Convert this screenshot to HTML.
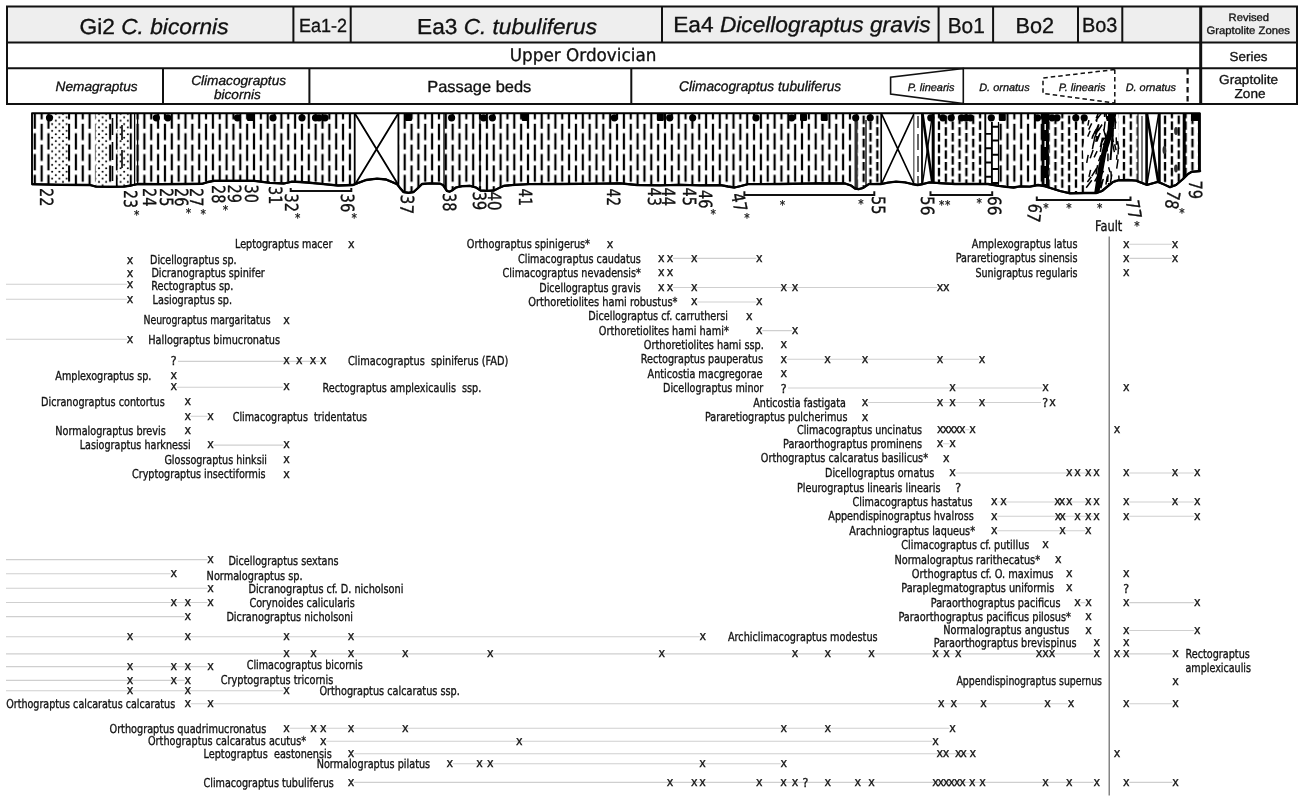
<!DOCTYPE html>
<html lang="en"><head><meta charset="utf-8"><title>Graptolite range chart</title>
<style>
html,body{margin:0;padding:0;background:#fff}
svg{display:block}
text{white-space:pre}
.c{font-stretch:condensed}
</style></head><body>
<svg width="1307" height="800" viewBox="0 0 1307 800" text-rendering="geometricPrecision">
<rect width="1307" height="800" fill="#fff"/>
<g id="hdr">
<rect x="7" y="6.5" width="1290" height="36" fill="#eee"/>
<g fill="none" stroke="#111" stroke-width="2">
<rect x="7" y="6.5" width="1290" height="97.5"/>
<path d="M7 42.5H1297M7 68.2H1297"/>
<path d="M293.4 6.5V42.5M350.7 6.5V42.5M662 6.5V42.5M938.6 6.5V42.5M993.1 6.5V42.5M1078 6.5V42.5M1122.3 6.5V42.5M163 68.2V104M309.4 68.2V104M631.3 68.2V104"/>
<path d="M1200.7 6.5V104" stroke-width="3"/>
<path d="M963.3 68.5L890.6 77.2V94L963.3 103.5Z" stroke-width="1.6"/>
<path d="M1114.8 69.5L1043 78V93.4L1114.8 103M1114.8 69.5V103" stroke-width="1.5" stroke-dasharray="4.5 3"/>
<path d="M1187.6 69V104" stroke-width="2.2" stroke-dasharray="5.5 3.5"/>
</g>
<g font-family='"Liberation Sans","DejaVu Sans",sans-serif' fill="#111" stroke="#111" stroke-width=".32">
<text x="79.5" y="33.5" font-size="21.7" textLength="149" lengthAdjust="spacingAndGlyphs">Gi2 <tspan font-style="italic">C. bicornis</tspan></text>
<text x="299" y="32.4" font-size="19" textLength="48" lengthAdjust="spacingAndGlyphs">Ea1-2</text>
<text x="417.1" y="33.5" font-size="21.7" textLength="179.9" lengthAdjust="spacingAndGlyphs">Ea3 <tspan font-style="italic">C. tubuliferus</tspan></text>
<text x="673.2" y="31.8" font-size="21.9" textLength="257.3" lengthAdjust="spacingAndGlyphs">Ea4 <tspan font-style="italic">Dicellograptus gravis</tspan></text>
<text x="947.7" y="33" font-size="21.7" textLength="37.1" lengthAdjust="spacingAndGlyphs">Bo1</text>
<text x="1015.6" y="33" font-size="21.7" textLength="38.6" lengthAdjust="spacingAndGlyphs">Bo2</text>
<text x="1082" y="32.2" font-size="20.4" textLength="35.4" lengthAdjust="spacingAndGlyphs">Bo3</text>
<text x="1228.6" y="20.6" font-size="10.8" textLength="40.5" lengthAdjust="spacingAndGlyphs">Revised</text>
<text x="1206.4" y="34" font-size="10.8" textLength="83.6" lengthAdjust="spacingAndGlyphs">Graptolite Zones</text>
<text x="1229.5" y="61" font-size="13" textLength="38.1" lengthAdjust="spacingAndGlyphs">Series</text>
<text x="1219.1" y="83.5" font-size="13" textLength="59.1" lengthAdjust="spacingAndGlyphs">Graptolite</text>
<text x="1234.6" y="98.2" font-size="13" textLength="30.9" lengthAdjust="spacingAndGlyphs">Zone</text>
<text x="55.6" y="90.9" font-size="13.4" textLength="82" lengthAdjust="spacingAndGlyphs" font-style="italic">Nemagraptus</text>
<text x="191.2" y="84.6" font-size="13.4" textLength="94.9" lengthAdjust="spacingAndGlyphs" font-style="italic">Climacograptus</text>
<text x="213.9" y="99" font-size="13.4" textLength="47" lengthAdjust="spacingAndGlyphs" font-style="italic">bicornis</text>
<text x="427.2" y="92.2" font-size="16" textLength="104.1" lengthAdjust="spacingAndGlyphs">Passage beds</text>
<text x="679" y="91.4" font-size="14" textLength="162.2" lengthAdjust="spacingAndGlyphs" font-style="italic">Climacograptus tubuliferus</text>
<text x="907.8" y="90.9" font-size="10.8" textLength="46.7" lengthAdjust="spacingAndGlyphs" font-style="italic">P. linearis</text>
<text x="979.2" y="90.9" font-size="10.8" textLength="50.5" lengthAdjust="spacingAndGlyphs" font-style="italic">D. ornatus</text>
<text x="1058.8" y="90.9" font-size="10.8" textLength="46.7" lengthAdjust="spacingAndGlyphs" font-style="italic">P. linearis</text>
<text x="1125.7" y="90.9" font-size="10.8" textLength="50.3" lengthAdjust="spacingAndGlyphs" font-style="italic">D. ornatus</text>
</g>
<text class="c" x="509.8" y="60.6" font-size="17.4" font-family='"DejaVu Sans Condensed","DejaVu Sans","Liberation Sans",sans-serif' fill="#111" stroke="#111" stroke-width=".3" textLength="146.6" lengthAdjust="spacingAndGlyphs">Upper Ordovician</text>
</g>
<defs>
<clipPath id="cc"><path d="M32 113.2 H1199.8 V171 L1200.3 171 L1191.4 171.9 L1188 174 L1183 179 L1176 185 L1170 187.2 L1163 184 L1157.7 181.8 L1152 183.5 L1147 184.9 L1142 183 L1136 180.6 L1128 180 L1118 180.3 L1113 182 L1108 186 L1102 191 L1096.5 193 L1085 193 L1070 193.3 L1060 191 L1052 188.5 L1044 186 L1038 185 L1030 186.6 L1020 186.4 L1013.6 187.5 L1006 186.8 L998.5 185.8 L988 184 L955 184 L940 183.2 L929.4 182.4 L923 184 L917.6 185 L912 184 L905 182.4 L896 181.6 L888 182.6 L881.4 184 L868.8 184.1 L863 188 L858.7 189.2 L855 188.5 L851 185.5 L845 183.5 L820 183.3 L780 184 L748 184.1 L741 186 L734.5 187.5 L728 186.5 L721 185.2 L700 185.3 L680 184.8 L660 185.3 L637 185 L620 183.3 L600 183.6 L560 184 L529 184.1 L515 184.8 L504 185.8 L499 188 L494 190.5 L487 190.9 L480.6 190.5 L476 187.5 L470 185.8 L462 186.2 L456 187.5 L452 190.5 L449.5 191.7 L447 191 L445 188 L443 185 L440 183.7 L430 183.4 L422 184 L418 188 L413.6 192 L408.5 192.8 L403.5 192 L400 188 L397 184.1 L392 182 L386 179.5 L377 178.6 L366 180 L358 183 L353 185 L338 185.5 L321 183.8 L307 182.5 L300 182 L292 181.6 L284 183.5 L270 182.8 L254 180.8 L235 180.8 L214 180.8 L208 182 L202 183.8 L185 184 L160 184.2 L138 184 L131 185.5 L124 186.6 L110 186.8 L96 186.6 L90 185 L60 184.8 L32 184.2Z"/></clipPath>
<pattern id="pd" x="34.8" y="103" width="13.7" height="20.8" patternUnits="userSpaceOnUse"><path d="M6.85 0V16.3M0 9.4V20.8M0 0V4.9M13.7 9.4V20.8M13.7 0V4.9" stroke="#000" stroke-width="2.2" fill="none"/></pattern>
<pattern id="pe" x="34.8" y="104" width="13.7" height="11.6" patternUnits="userSpaceOnUse"><path d="M6.85 0V8.4M0 5.8V11.6M0 0V2.6M13.7 5.8V11.6M13.7 0V2.6" stroke="#000" stroke-width="2.3" fill="none"/></pattern>
<pattern id="pt" x="0" y="0" width="7.2" height="6.8" patternUnits="userSpaceOnUse"><circle cx="1.8" cy="1.7" r="1.05"/><circle cx="5.4" cy="5.1" r="1.05"/></pattern>
</defs>
<g clip-path="url(#cc)">
<rect x="30" y="110" width="1175" height="90" fill="#fff"/>
<rect x="30" y="110" width="1175" height="90" fill="url(#pd)"/>
<rect x="857.5" y="110" width="23" height="90" fill="#fff"/>
<rect x="857.5" y="110" width="23" height="90" fill="url(#pe)"/>
<rect x="934.5" y="110" width="50.5" height="90" fill="#fff"/>
<rect x="934.5" y="110" width="50.5" height="90" fill="url(#pe)"/>
<rect x="1049" y="110" width="41" height="90" fill="#fff"/>
<rect x="1049" y="110" width="41" height="90" fill="url(#pe)"/>
<rect x="1118" y="110" width="28" height="90" fill="#fff"/>
<rect x="1118" y="110" width="28" height="90" fill="url(#pe)"/>
<rect x="1160" y="110" width="40" height="90" fill="#fff"/>
<rect x="1160" y="110" width="40" height="90" fill="url(#pe)"/>
<rect x="50.3" y="110" width="17.7" height="90" fill="#fff"/>
<rect x="50.3" y="110" width="17.7" height="90" fill="url(#pt)"/>
<rect x="95.8" y="110" width="12.6" height="90" fill="#fff"/>
<rect x="95.8" y="110" width="12.6" height="90" fill="url(#pt)"/>
<rect x="117.6" y="110" width="11.8" height="90" fill="#fff"/>
<rect x="117.6" y="110" width="11.8" height="90" fill="url(#pt)"/>
<path d="M112.5 118V135M112.5 142V160M112.5 166V181M122 125V140M122 150V168" stroke="#000" stroke-width="1.6"/>
<rect x="354.7" y="110" width="43.7" height="90" fill="#fff"/>
<path d="M354.7 113.2V195M398.4 113.2V195" stroke="#000" stroke-width="1.8" fill="none"/>
<path d="M354.7 113.2L398.4 185M398.4 113.2L354.7 185" stroke="#000" stroke-width="1.8" fill="none"/>
<rect x="881.2" y="110" width="33.1" height="90" fill="#fff"/>
<path d="M881.2 113.2V195M914.3 113.2V195" stroke="#000" stroke-width="1.7" fill="none"/>
<path d="M881.2 113.2L914.3 184.5M914.3 113.2L881.2 184.5" stroke="#000" stroke-width="1.7" fill="none"/>
<rect x="914.3" y="110" width="20" height="90" fill="#fff"/>
<path d="M918 116V128M918 134V150M918 156V172M918 176V184" stroke="#333" stroke-width="1.5"/>
<path d="M922 113V195" stroke="#000" stroke-width="1.8"/><path d="M933.2 113V195" stroke="#000" stroke-width="3"/>
<path d="M922.5 114L932.5 184" stroke="#000" stroke-width="2.6"/><path d="M932.5 114L922.5 184" stroke="#000" stroke-width="1.4"/>
<rect x="1138" y="110" width="22" height="90" fill="#fff"/>
<path d="M1138 113V195M1142 116V195" stroke="#444" stroke-width="1.4"/>
<path d="M1146.6 113V195M1159.4 113V195" stroke="#000" stroke-width="2.6"/>
<path d="M1147 114L1158.6 184" stroke="#000" stroke-width="2.6"/><path d="M1158.6 114L1147 184" stroke="#000" stroke-width="1.5"/>
<rect x="985.3" y="110" width="13.2" height="90" fill="#fff"/>
<path d="M985.3 110V195M991.9 122V195M985.3 133.9H991.9M985.3 148.2H991.9M985.3 162.5H991.9M985.3 176.8H991.9M991.9 126.7H998.5M991.9 140.5H998.5M991.9 154.8H998.5M991.9 169H998.5M991.9 183H998.5" stroke="#000" stroke-width="1.9" fill="none"/>
<path d="M998.5 122V195" stroke="#000" stroke-width="1.2"/>
<path d="M134.6 110V195M137.6 110V195M444 110V195M480 110V195M866 120V195" stroke="#000" stroke-width="1.3" fill="none"/>
<path d="M856 118V195" stroke="#333" stroke-width="3"/>
<path d="M1184.2 110V195" stroke="#000" stroke-width="3"/>
<path d="M1045.2 110V195" stroke="#000" stroke-width="7.2"/>
<path d="M1045.2 124V130M1045.2 141V147M1045.2 160V166M1045.2 178V184" stroke="#fff" stroke-width="1.4"/>
<path d="M1088 110L1083 150L1085 200L1120 200L1118 110Z" fill="#fff"/>
<path d="M1094.1 157.4l3 -6.2M1107.3 121l0.6 -5M1094.8 133.8l3.7 -9.2M1114.4 152.2l-1.8 -8M1107.6 182l0.5 -7.6M1108.8 120.9l-0 -8.8M1096.2 118.4l3.5 -8.6M1110.4 182.8l1.4 -8.5M1099.4 176.9l4.2 -5.9M1115.9 123.4l-1.1 -5.6M1118.8 149.1l-1.2 -8M1103.2 145.3l2.9 -6.1M1105.9 184.7l1.4 -8.3M1115.1 191.3l-1.8 -8.2M1115.3 189.3l-0.1 -9.5M1110.3 132l-0.1 -9.2M1095.7 120.8l5.6 -7.4M1089 176.8l1.6 -6.9M1096 174.4l1.6 -9.2M1106.9 119.4l-1.2 -8.5M1116 190.5l1.5 -7.4M1096.5 121.8l1.3 -7.9M1092.7 147l1.8 -7.8M1087.4 182l3.9 -5.3M1116.5 144.7l-0.3 -7.3M1107.9 161.3l0.1 -7.8M1118 154.5l0.4 -7.1M1094.1 138.9l3.9 -9.1M1104.6 116.9l-0.1 -7.1M1086.7 162.8l1.5 -8M1107.3 151.4l-1 -8.3M1110 172.1l-1.4 -4.9M1109 189.2l-0.4 -6.2M1106.2 140.3l-1 -6.7M1098.6 161.3l2.2 -6.1M1112.3 118l0.5 -7.8M1096.5 132.9l2.4 -8.7M1092.4 149.1l1.7 -8.3M1096.9 141.4l3.3 -8.5M1115.1 128.9l0.2 -6.7M1116.1 150.3l-1.5 -6M1104 130.5l1.1 -9M1092.2 137.2l4.1 -8.1M1113.4 142.2l-0.9 -5.6M1113 136.6l-0.6 -6.7M1100.3 147.1l2.2 -9.4M1086.2 187.7l5.6 -7.5M1100.8 188.2l2.5 -9.3M1111.3 179.6l-0.3 -8.3M1095.8 141.9l1.1 -6M1106 137.8l-2.5 -8.7M1116.7 168.7l1.4 -9.5M1116.6 159.8l0.4 -5.1M1091.8 138.8l3.3 -7.6M1100.1 187.4l2.5 -7.6M1094.6 181.5l3.8 -6.3M1098 131l4.1 -6.5M1091.8 176.2l5 -8.2M1114 116.6l1.1 -8.1M1087.7 136.6l2.5 -5.8M1100.4 151.9l1.3 -8.8M1087.9 125.6l1 -5.5M1119.1 180.9l-0.3 -5.4M1096.7 139.9l3.1 -6M1105.9 143.4l-0.8 -5.9M1090.2 158.2l2.9 -8.1M1088.7 129.6l3 -6.2M1112.6 144.9l0.1 -9M1100.7 144.3l3.6 -6.6M1100.3 168.8l2 -7" stroke="#000" stroke-width="1.5" fill="none"/>
<path d="M1109 110H1117L1112.5 135L1106.5 153L1099.5 192L1094 194L1098.5 165L1102.5 148L1107.5 130Z" fill="#000"/>
<path d="M1113 128L1110.5 160" stroke="#000" stroke-width="2"/>
<ellipse cx="1176" cy="131" rx="1.9" ry="4" fill="#333"/>
<ellipse cx="1164.4" cy="150" rx="1.9" ry="4" fill="#333"/>
<ellipse cx="1176" cy="168.5" rx="1.9" ry="4" fill="#333"/>
<g fill="#000">
<circle cx="49.5" cy="117.8" r="3.6"/>
<circle cx="156.4" cy="117.8" r="3.6"/>
<circle cx="167.8" cy="117.8" r="3.6"/>
<circle cx="237.5" cy="117.8" r="3.6"/>
<circle cx="273" cy="117.8" r="3.6"/>
<circle cx="302" cy="117.8" r="3.6"/>
<circle cx="315.5" cy="117.8" r="3.6"/>
<circle cx="319" cy="117.8" r="3.6"/>
<circle cx="325" cy="117.8" r="3.6"/>
<circle cx="451.6" cy="117.8" r="3.6"/>
<circle cx="483.6" cy="117.8" r="3.6"/>
<circle cx="492.4" cy="117.8" r="3.6"/>
<circle cx="614.4" cy="117.8" r="3.6"/>
<circle cx="669.7" cy="117.8" r="3.6"/>
<circle cx="692.7" cy="117.8" r="3.6"/>
<circle cx="756" cy="117.8" r="3.6"/>
<circle cx="791.7" cy="117.8" r="3.6"/>
<circle cx="855.7" cy="117.8" r="3.6"/>
<circle cx="870.2" cy="117.8" r="3.6"/>
<circle cx="930.8" cy="117.8" r="3.6"/>
<circle cx="942.9" cy="117.8" r="3.6"/>
<circle cx="951.2" cy="117.8" r="3.6"/>
<circle cx="961.6" cy="117.8" r="3.6"/>
<circle cx="966" cy="117.8" r="3.6"/>
<circle cx="970.4" cy="117.8" r="3.6"/>
<circle cx="991.3" cy="117.8" r="3.6"/>
<circle cx="1037.5" cy="117.8" r="3.6"/>
<circle cx="1052" cy="117.8" r="3.6"/>
<circle cx="1057" cy="117.8" r="3.6"/>
<circle cx="1075.8" cy="117.8" r="3.6"/>
<circle cx="1084.2" cy="117.8" r="3.6"/>
<rect x="247" y="113.6" width="7" height="7.4" rx="1.2"/>
<rect x="405" y="113.6" width="7" height="7.4" rx="1.2"/>
<rect x="521.7" y="113.6" width="7" height="7.4" rx="1.2"/>
<rect x="656.9" y="113.6" width="7" height="7.4" rx="1.2"/>
<rect x="800" y="113.6" width="7" height="7.4" rx="1.2"/>
<rect x="820.8" y="113.6" width="7" height="7.4" rx="1.2"/>
<rect x="998.8" y="113.6" width="7" height="7.4" rx="1.2"/>
<rect x="1191" y="113" width="9" height="8"/>
</g>
</g>
<path d="M32 113.2 H1199.8 V171 L1200.3 171 L1191.4 171.9 L1188 174 L1183 179 L1176 185 L1170 187.2 L1163 184 L1157.7 181.8 L1152 183.5 L1147 184.9 L1142 183 L1136 180.6 L1128 180 L1118 180.3 L1113 182 L1108 186 L1102 191 L1096.5 193 L1085 193 L1070 193.3 L1060 191 L1052 188.5 L1044 186 L1038 185 L1030 186.6 L1020 186.4 L1013.6 187.5 L1006 186.8 L998.5 185.8 L988 184 L955 184 L940 183.2 L929.4 182.4 L923 184 L917.6 185 L912 184 L905 182.4 L896 181.6 L888 182.6 L881.4 184 L868.8 184.1 L863 188 L858.7 189.2 L855 188.5 L851 185.5 L845 183.5 L820 183.3 L780 184 L748 184.1 L741 186 L734.5 187.5 L728 186.5 L721 185.2 L700 185.3 L680 184.8 L660 185.3 L637 185 L620 183.3 L600 183.6 L560 184 L529 184.1 L515 184.8 L504 185.8 L499 188 L494 190.5 L487 190.9 L480.6 190.5 L476 187.5 L470 185.8 L462 186.2 L456 187.5 L452 190.5 L449.5 191.7 L447 191 L445 188 L443 185 L440 183.7 L430 183.4 L422 184 L418 188 L413.6 192 L408.5 192.8 L403.5 192 L400 188 L397 184.1 L392 182 L386 179.5 L377 178.6 L366 180 L358 183 L353 185 L338 185.5 L321 183.8 L307 182.5 L300 182 L292 181.6 L284 183.5 L270 182.8 L254 180.8 L235 180.8 L214 180.8 L208 182 L202 183.8 L185 184 L160 184.2 L138 184 L131 185.5 L124 186.6 L110 186.8 L96 186.6 L90 185 L60 184.8 L32 184.2Z" fill="none" stroke="#000" stroke-width="1.9" stroke-linejoin="round"/>
<path d="M1199.3 113V171" stroke="#000" stroke-width="2.6"/>
<path d="M32 184.2 L60 184.8 L90 185 L96 186.6 L110 186.8 L124 186.6 L131 185.5 L138 184 L160 184.2 L185 184 L202 183.8 L208 182 L214 180.8 L235 180.8 L254 180.8 L270 182.8 L284 183.5 L292 181.6 L300 182 L307 182.5 L321 183.8 L338 185.5 L353 185 L358 183 L366 180 L377 178.6 L386 179.5 L392 182 L397 184.1 L400 188 L403.5 192 L408.5 192.8 L413.6 192 L418 188 L422 184 L430 183.4 L440 183.7 L443 185 L445 188 L447 191 L449.5 191.7 L452 190.5 L456 187.5 L462 186.2 L470 185.8 L476 187.5 L480.6 190.5 L487 190.9 L494 190.5 L499 188 L504 185.8 L515 184.8 L529 184.1 L560 184 L600 183.6 L620 183.3 L637 185 L660 185.3 L680 184.8 L700 185.3 L721 185.2 L728 186.5 L734.5 187.5 L741 186 L748 184.1 L780 184 L820 183.3 L845 183.5 L851 185.5 L855 188.5 L858.7 189.2 L863 188 L868.8 184.1 L881.4 184 L888 182.6 L896 181.6 L905 182.4 L912 184 L917.6 185 L923 184 L929.4 182.4 L940 183.2 L955 184 L988 184 L998.5 185.8 L1006 186.8 L1013.6 187.5 L1020 186.4 L1030 186.6 L1038 185 L1044 186 L1052 188.5 L1060 191 L1070 193.3 L1085 193 L1096.5 193 L1102 191 L1108 186 L1113 182 L1118 180.3 L1128 180 L1136 180.6 L1142 183 L1147 184.9 L1152 183.5 L1157.7 181.8 L1163 184 L1170 187.2 L1176 185 L1183 179 L1188 174 L1191.4 171.9 L1200.3 171" fill="none" stroke="#000" stroke-width="2.3" stroke-linejoin="round"/>
<path d="M290.7 188V191H351.3V188M744.4 191.2V195H874.3V191.2M930.5 191.2V195H992.2V191.2M1036.8 196.4V200H1130.5V196.4" fill="none" stroke="#111" stroke-width="2"/>
<g class="c" font-family='"DejaVu Sans Condensed","DejaVu Sans","Liberation Sans",sans-serif' font-size="18.2" fill="#111" stroke="#111" stroke-width=".32">
<text transform="translate(40.4 188) rotate(90)" x="0" y="0" textLength="18.4" lengthAdjust="spacingAndGlyphs">22</text>
<text transform="translate(124 190) rotate(90)" x="0" y="0" textLength="18" lengthAdjust="spacingAndGlyphs">23</text>
<text transform="translate(143.4 188) rotate(90)" x="0" y="0" textLength="18.4" lengthAdjust="spacingAndGlyphs">24</text>
<text transform="translate(159.5 188) rotate(90)" x="0" y="0" textLength="18.4" lengthAdjust="spacingAndGlyphs">25</text>
<text transform="translate(174.8 188) rotate(90)" x="0" y="0" textLength="18.4" lengthAdjust="spacingAndGlyphs">26</text>
<text transform="translate(190.2 188) rotate(90)" x="0" y="0" textLength="18.4" lengthAdjust="spacingAndGlyphs">27</text>
<text transform="translate(211.8 185) rotate(90)" x="0" y="0" textLength="18.4" lengthAdjust="spacingAndGlyphs">28</text>
<text transform="translate(227.8 184.6) rotate(90)" x="0" y="0" textLength="18.3" lengthAdjust="spacingAndGlyphs">29</text>
<text transform="translate(244.8 184.6) rotate(90)" x="0" y="0" textLength="18.3" lengthAdjust="spacingAndGlyphs">30</text>
<text transform="translate(268.8 186.1) rotate(90)" x="0" y="0" textLength="18.3" lengthAdjust="spacingAndGlyphs">31</text>
<text transform="translate(285.4 193.6) rotate(90)" x="0" y="0" textLength="18.5" lengthAdjust="spacingAndGlyphs">32</text>
<text transform="translate(340.7 193.6) rotate(90)" x="0" y="0" textLength="18.8" lengthAdjust="spacingAndGlyphs">36</text>
<text transform="translate(400.9 194.6) rotate(92)" x="0" y="0" textLength="19.1" lengthAdjust="spacingAndGlyphs">37</text>
<text transform="translate(443.2 193) rotate(90)" x="0" y="0" textLength="18.4" lengthAdjust="spacingAndGlyphs">38</text>
<text transform="translate(473.1 191.4) rotate(90)" x="0" y="0" textLength="18.9" lengthAdjust="spacingAndGlyphs">39</text>
<text transform="translate(488.4 191.4) rotate(90)" x="0" y="0" textLength="19" lengthAdjust="spacingAndGlyphs">40</text>
<text transform="translate(519.2 188.4) rotate(90)" x="0" y="0" textLength="17.6" lengthAdjust="spacingAndGlyphs">41</text>
<text transform="translate(606.5 188.4) rotate(90)" x="0" y="0" textLength="17.6" lengthAdjust="spacingAndGlyphs">42</text>
<text transform="translate(647.8 187.6) rotate(90)" x="0" y="0" textLength="18.4" lengthAdjust="spacingAndGlyphs">43</text>
<text transform="translate(662.1 187.6) rotate(90)" x="0" y="0" textLength="18.4" lengthAdjust="spacingAndGlyphs">44</text>
<text transform="translate(683.4 187.6) rotate(90)" x="0" y="0" textLength="18.4" lengthAdjust="spacingAndGlyphs">45</text>
<text transform="translate(699.4 189.9) rotate(90)" x="0" y="0" textLength="18.5" lengthAdjust="spacingAndGlyphs">46</text>
<text transform="translate(731.1 194.2) rotate(79)" x="0" y="0" textLength="18.8" lengthAdjust="spacingAndGlyphs">47</text>
<text transform="translate(872.2 196) rotate(90)" x="0" y="0" textLength="18.4" lengthAdjust="spacingAndGlyphs">55</text>
<text transform="translate(921.2 196) rotate(90)" x="0" y="0" textLength="19.4" lengthAdjust="spacingAndGlyphs">56</text>
<text transform="translate(988.2 196) rotate(90)" x="0" y="0" textLength="19.4" lengthAdjust="spacingAndGlyphs">66</text>
<text transform="translate(1029.3 202.9) rotate(98)" x="0" y="0" textLength="18.4" lengthAdjust="spacingAndGlyphs">67</text>
<text transform="translate(1125.8 201.3) rotate(80)" x="0" y="0" textLength="19.1" lengthAdjust="spacingAndGlyphs">77</text>
<text transform="translate(1167.8 189.8) rotate(100)" x="0" y="0" textLength="18.4" lengthAdjust="spacingAndGlyphs">78</text>
<text transform="translate(1189.3 180.6) rotate(90)" x="0" y="0" textLength="18.5" lengthAdjust="spacingAndGlyphs">79</text>
</g>
<g class="c" font-family='"DejaVu Sans Condensed","DejaVu Sans","Liberation Sans",sans-serif' font-size="12" fill="#111" text-anchor="middle" stroke="#111" stroke-width=".25">
<text x="136.8" y="218.5">*</text>
<text x="188.4" y="217.1">*</text>
<text x="203.2" y="217.6">*</text>
<text x="225.4" y="213.6">*</text>
<text x="297.7" y="222.4">*</text>
<text x="354.2" y="222.1">*</text>
<text x="713.3" y="217.8">*</text>
<text x="747" y="221.6">*</text>
<text x="1137" y="230">*</text>
<text x="1181.9" y="216.7">*</text>
<text x="782.5" y="208.6">*</text>
<text x="861" y="207.9">*</text>
<text x="941.7" y="208.9">*</text>
<text x="947.8" y="208.9">*</text>
<text x="979.1" y="207.1">*</text>
<text x="1046" y="211.7">*</text>
<text x="1069" y="211.7">*</text>
<text x="1099.6" y="212.1">*</text>
</g>
<path d="M6 284.3H127M6 299.3H127M6 339.3H127M178 361.4H320M177 387.2H283M190.5 416.3H207.5M213.5 445.1H283.5M6 559.6H207.5M6 573.8H170.8M6 588.3H207.5M6 602.5H207.5M6 616.6H184.7M6 636.8H699.8M6 653.9H1093.8M1120 653.9H1172.5M6 666.6H207.5M6 680.4H184.7M6 690.8H283.4M190.7 703.8H1068M1129.2 703.8H1172.5M289.4 728.3H949.4M326.3 741.2H932.4M353.9 753.7H969.7M452.8 763.8H780.8M353.9 782.4H1093.8M1129.2 782.4H1172.5M673 258.4H756.3M1129.2 244.3H1172M1129.2 258.4H1172M673 287.5H937M697.3 302H756.3M762.3 330.6H792M786.8 359.3H979M788 388H1042.5M868 402.5H1041M965.2 429.8H969.5M943 443.8H949.5M955.5 473H1093.6M1129.2 473H1194.2M997.3 502H1093.6M1129.2 502H1194.2M997.3 516.3H1093.6M1129.2 516.3H1194.2M997.3 530.8H1085.3M1080.6 602.6H1085.4M1129.2 602.6H1194.3M1129.2 630.5H1194.3" stroke="#cfcfcf" stroke-width="1.1" fill="none"/>
<path d="M1109.2 236.5V795.5" stroke="#666" stroke-width="1.2" fill="none"/>
<g class="c" font-family='"DejaVu Sans Condensed","DejaVu Sans","Liberation Sans",sans-serif' font-size="12.3" fill="#111" stroke="#111" stroke-width=".32">
<text x="235" y="248.4" textLength="97.5" lengthAdjust="spacingAndGlyphs">Leptograptus macer</text>
<text x="150" y="263.8" textLength="86.6" lengthAdjust="spacingAndGlyphs">Dicellograptus sp.</text>
<text x="151.4" y="276.7" textLength="113.4" lengthAdjust="spacingAndGlyphs">Dicranograptus spinifer</text>
<text x="151.2" y="289.5" textLength="82.1" lengthAdjust="spacingAndGlyphs">Rectograptus sp.</text>
<text x="152.6" y="303.9" textLength="79.4" lengthAdjust="spacingAndGlyphs">Lasiograptus sp.</text>
<text x="143.5" y="323.7" textLength="127" lengthAdjust="spacingAndGlyphs">Neurograptus margaritatus</text>
<text x="148.3" y="343.7" textLength="131.7" lengthAdjust="spacingAndGlyphs">Hallograptus bimucronatus</text>
<text x="348" y="365.4" textLength="160.3" lengthAdjust="spacingAndGlyphs">Climacograptus  spiniferus (FAD)</text>
<text x="55.3" y="379.7" textLength="96.1" lengthAdjust="spacingAndGlyphs">Amplexograptus sp.</text>
<text x="322.6" y="391.7" textLength="158.7" lengthAdjust="spacingAndGlyphs">Rectograptus amplexicaulis  ssp.</text>
<text x="41" y="405.9" textLength="123.7" lengthAdjust="spacingAndGlyphs">Dicranograptus contortus</text>
<text x="232.7" y="420.7" textLength="134.3" lengthAdjust="spacingAndGlyphs">Climacograptus  tridentatus</text>
<text x="55.3" y="434.7" textLength="110.4" lengthAdjust="spacingAndGlyphs">Normalograptus brevis</text>
<text x="79.7" y="449.1" textLength="110.9" lengthAdjust="spacingAndGlyphs">Lasiograptus harknessi</text>
<text x="164.4" y="463.7" textLength="102.6" lengthAdjust="spacingAndGlyphs">Glossograptus hinksii</text>
<text x="132" y="478.4" textLength="133.6" lengthAdjust="spacingAndGlyphs">Cryptograptus insectiformis</text>
<text x="228.4" y="565.1" textLength="110.2" lengthAdjust="spacingAndGlyphs">Dicellograptus sextans</text>
<text x="206.6" y="580.1" textLength="96" lengthAdjust="spacingAndGlyphs">Normalograptus sp.</text>
<text x="248.4" y="592.7" textLength="155" lengthAdjust="spacingAndGlyphs">Dicranograptus cf. D. nicholsoni</text>
<text x="249.5" y="606.8" textLength="105.3" lengthAdjust="spacingAndGlyphs">Corynoides calicularis</text>
<text x="226.4" y="621.1" textLength="126.6" lengthAdjust="spacingAndGlyphs">Dicranograptus nicholsoni</text>
<text x="728" y="640.7" textLength="149.6" lengthAdjust="spacingAndGlyphs">Archiclimacograptus modestus</text>
<text x="1185.5" y="658" textLength="64.3" lengthAdjust="spacingAndGlyphs">Rectograptus</text>
<text x="1185.5" y="671.6" textLength="65.5" lengthAdjust="spacingAndGlyphs">amplexicaulis</text>
<text x="246.7" y="668.9" textLength="116" lengthAdjust="spacingAndGlyphs">Climacograptus bicornis</text>
<text x="220.8" y="684.4" textLength="112.5" lengthAdjust="spacingAndGlyphs">Cryptograptus tricornis</text>
<text x="319.4" y="695.2" textLength="140.4" lengthAdjust="spacingAndGlyphs">Orthograptus calcaratus ssp.</text>
<text x="6.2" y="708" textLength="169" lengthAdjust="spacingAndGlyphs">Orthograptus calcaratus calcaratus</text>
<text x="109.5" y="732.7" textLength="156.7" lengthAdjust="spacingAndGlyphs">Orthograptus quadrimucronatus</text>
<text x="148" y="745.1" textLength="158.1" lengthAdjust="spacingAndGlyphs">Orthograptus calcaratus acutus*</text>
<text x="203.5" y="757.8" textLength="128.2" lengthAdjust="spacingAndGlyphs">Leptograptus  eastonensis</text>
<text x="316.7" y="768" textLength="113.4" lengthAdjust="spacingAndGlyphs">Normalograptus pilatus</text>
<text x="203.5" y="786.5" textLength="130.3" lengthAdjust="spacingAndGlyphs">Climacograptus tubuliferus</text>
<text x="466.8" y="248.4" textLength="123.2" lengthAdjust="spacingAndGlyphs">Orthograptus spinigerus*</text>
<text x="518" y="262.6" textLength="122.8" lengthAdjust="spacingAndGlyphs">Climacograptus caudatus</text>
<text x="502.6" y="277.1" textLength="138.2" lengthAdjust="spacingAndGlyphs">Climacograptus nevadensis*</text>
<text x="539.3" y="291.6" textLength="101.5" lengthAdjust="spacingAndGlyphs">Dicellograptus gravis</text>
<text x="528.3" y="306.1" textLength="149.2" lengthAdjust="spacingAndGlyphs">Orthoretiolites hami robustus*</text>
<text x="588.3" y="320.4" textLength="139.7" lengthAdjust="spacingAndGlyphs">Dicellograptus cf. carruthersi</text>
<text x="598.8" y="334.7" textLength="130" lengthAdjust="spacingAndGlyphs">Orthoretiolites hami hami*</text>
<text x="643.8" y="349.1" textLength="120" lengthAdjust="spacingAndGlyphs">Orthoretiolites hami ssp.</text>
<text x="640.8" y="363.4" textLength="122.2" lengthAdjust="spacingAndGlyphs">Rectograptus pauperatus</text>
<text x="647.6" y="377.9" textLength="114.9" lengthAdjust="spacingAndGlyphs">Anticostia macgregorae</text>
<text x="663" y="392.1" textLength="100.3" lengthAdjust="spacingAndGlyphs">Dicellograptus minor</text>
<text x="753.3" y="406.6" textLength="92.5" lengthAdjust="spacingAndGlyphs">Anticostia fastigata</text>
<text x="705" y="421.2" textLength="142.5" lengthAdjust="spacingAndGlyphs">Pararetiograptus pulcherimus</text>
<text x="797" y="434.4" textLength="125" lengthAdjust="spacingAndGlyphs">Climacograptus uncinatus</text>
<text x="783" y="447.9" textLength="139" lengthAdjust="spacingAndGlyphs">Paraorthograptus prominens</text>
<text x="760.8" y="462.4" textLength="167.2" lengthAdjust="spacingAndGlyphs">Orthograptus calcaratus basilicus*</text>
<text x="825" y="477.1" textLength="109.3" lengthAdjust="spacingAndGlyphs">Dicellograptus ornatus</text>
<text x="797" y="491.6" textLength="143.5" lengthAdjust="spacingAndGlyphs">Pleurograptus linearis linearis</text>
<text x="852.5" y="506.1" textLength="120" lengthAdjust="spacingAndGlyphs">Climacograptus hastatus</text>
<text x="828.3" y="520.4" textLength="145.5" lengthAdjust="spacingAndGlyphs">Appendispinograptus hvalross</text>
<text x="849.3" y="534.9" textLength="125.7" lengthAdjust="spacingAndGlyphs">Arachniograptus laqueus*</text>
<text x="901.3" y="549.1" textLength="128" lengthAdjust="spacingAndGlyphs">Climacograptus cf. putillus</text>
<text x="894.5" y="563.6" textLength="145.5" lengthAdjust="spacingAndGlyphs">Normalograptus rarithecatus*</text>
<text x="911.8" y="578.1" textLength="141.5" lengthAdjust="spacingAndGlyphs">Orthograptus cf. O. maximus</text>
<text x="901.3" y="592.1" textLength="153" lengthAdjust="spacingAndGlyphs">Paraplegmatograptus uniformis</text>
<text x="930.8" y="606.7" textLength="129.7" lengthAdjust="spacingAndGlyphs">Paraorthograptus pacificus</text>
<text x="898.4" y="621.1" textLength="172.6" lengthAdjust="spacingAndGlyphs">Paraorthograptus pacificus pilosus*</text>
<text x="943.3" y="634.1" textLength="125.9" lengthAdjust="spacingAndGlyphs">Normalograptus angustus</text>
<text x="933.8" y="646.6" textLength="142.8" lengthAdjust="spacingAndGlyphs">Paraorthograptus brevispinus</text>
<text x="956.4" y="684.6" textLength="145.6" lengthAdjust="spacingAndGlyphs">Appendispinograptus supernus</text>
<text x="971.8" y="248.4" textLength="105.7" lengthAdjust="spacingAndGlyphs">Amplexograptus latus</text>
<text x="955.8" y="262.4" textLength="121.7" lengthAdjust="spacingAndGlyphs">Pararetiograptus sinensis</text>
<text x="975.5" y="277.1" textLength="102" lengthAdjust="spacingAndGlyphs">Sunigraptus regularis</text>
<text x="1095" y="231.1" font-size="14.6" textLength="27.3" lengthAdjust="spacingAndGlyphs">Fault</text>
</g>
<g class="c" font-family='"DejaVu Sans Condensed","DejaVu Sans","Liberation Sans",sans-serif' font-size="12.3" fill="#111" text-anchor="middle" stroke="#111" stroke-width=".32">
<text y="247.7" x="351.2 610 1126.2 1175">xxxx</text>
<text y="263.9" x="130">x</text>
<text y="276.6" x="130">x</text>
<text y="287.8" x="130">x</text>
<text y="302.6" x="130">x</text>
<text y="323.9" x="286.4">x</text>
<text y="342.7" x="130">x</text>
<text y="363.9" x="286.4 299.3 313 323.3">xxxx</text>
<text y="365.1" x="173.8">?</text>
<text y="379" x="173.8">x</text>
<text y="390.4" x="173.8 286.4">xx</text>
<text y="405.2" x="187.7">x</text>
<text y="419.7" x="187.7 210.4">xx</text>
<text y="434" x="187.7">x</text>
<text y="448.4" x="210.4 286.4">xx</text>
<text y="463" x="286.4">x</text>
<text y="477.7" x="286.4">x</text>
<text y="563.4" x="210.4">x</text>
<text y="577.4" x="173.8">x</text>
<text y="591.9" x="210.4">x</text>
<text y="606" x="173.8 187.7 210.4">xxx</text>
<text y="620.1" x="187.7">x</text>
<text y="640.1" x="130 187.7 286.4 350.9 702.7">xxxxx</text>
<text y="657.2" x="286.4 313.6 350.9 405.2 490.2 661.7 795 827.8 871.6 935.4 946.4 958.2 1039 1045.5 1052 1096.8 1117 1126.2 1175.5">xxxxxxxxxxxxxxxxxxx</text>
<text y="670" x="130 173.8 187.7 210.4">xxxx</text>
<text y="683.8" x="130 173.8 187.7">xxx</text>
<text y="694.2" x="130 187.7 286.4">xxx</text>
<text y="707.1" x="187.7 210.4 941.2 953.8 983.5 1047.5 1071 1126.2 1175.5">xxxxxxxxx</text>
<text y="731.6" x="286.4 313.6 323.3 350.9 405.2 783.8 827.8 952.4">xxxxxxxx</text>
<text y="744.6" x="323.3 519.3 935.4">xxx</text>
<text y="757.1" x="350.9 939.8 945.9 958.2 963.5 972.7 1117">xxxxxxx</text>
<text y="767.1" x="449.8 479.6 490.2 702.6 783.8">xxxxx</text>
<text y="785.8" x="350.9 670 694.3 702.6 759.3 783.6 795 827.8 857.7 871.6 935.4 940.8 946.2 951.6 957 962.4 972.2 982.4 1045.6 1069.2 1096.8 1126.2 1175.5">xxxxxxxxxxxxxxxxxxxxxxx</text>
<text y="787" x="805.5">?</text>
<text y="261.8" x="661.3 670 694.3 759.3 1126.2 1175">xxxxxx</text>
<text y="276.4" x="661.3 670 1126.2">xxx</text>
<text y="290.9" x="661.3 670 694.3 783.8 795 940 946.3">xxxxxxx</text>
<text y="305.4" x="694.3 759.3">xx</text>
<text y="319.7" x="749.3">x</text>
<text y="334" x="759.3 795">xx</text>
<text y="348.4" x="783.8">x</text>
<text y="362.7" x="783.8 827.5 865 940 982">xxxxx</text>
<text y="377.2" x="783.8">x</text>
<text y="391.4" x="952.5 1045.5 1126.2">xxx</text>
<text y="392.6" x="783.8">?</text>
<text y="405.9" x="865 940 952.5 982 1052.6">xxxxx</text>
<text y="407.1" x="1045.3">?</text>
<text y="420.5" x="865">x</text>
<text y="433.2" x="940.2 945.7 951.2 956.7 962.2 972.5 1117">xxxxxxx</text>
<text y="447.2" x="940 952.5">xx</text>
<text y="461.7" x="946.3">x</text>
<text y="476.4" x="952.5 1069.3 1077.5 1088.3 1096.6 1126.2 1175 1197.2">xxxxxxxx</text>
<text y="492.1" x="958.3">?</text>
<text y="505.4" x="994.3 1003.6 1057.6 1062 1069.3 1088.3 1096.6 1126.2 1175 1197.2">xxxxxxxxxx</text>
<text y="519.6" x="994.3 1058 1062.4 1077.5 1088.3 1096.6 1126.2 1197.2">xxxxxxxx</text>
<text y="534.1" x="994.3 1062.5 1088.3">xxx</text>
<text y="548.4" x="1045.5">x</text>
<text y="562.9" x="1058.3">x</text>
<text y="577.4" x="1069.3 1126.2">xx</text>
<text y="591.4" x="1069.3">x</text>
<text y="592.6" x="1126.2">?</text>
<text y="606" x="1077.6 1088.4 1126.2 1197.3">xxxx</text>
<text y="620.4" x="1088.4">x</text>
<text y="633.6" x="1088.4 1126.2 1197.3">xxx</text>
<text y="646" x="1096.8 1126.2">xx</text>
<text y="684.6" x="1175.5">x</text>
</g>
</svg>
</body></html>
